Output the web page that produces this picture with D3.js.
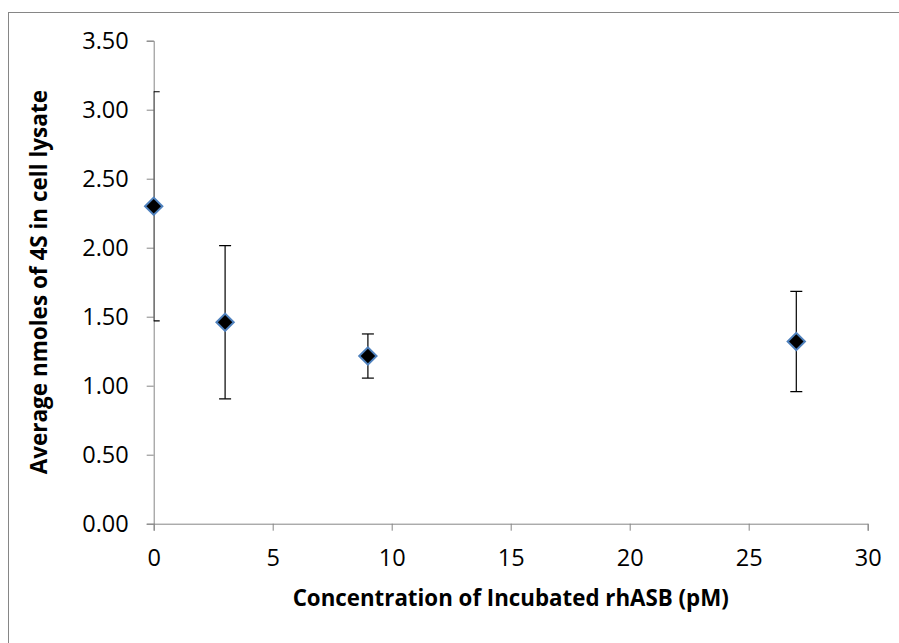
<!DOCTYPE html>
<html>
<head>
<meta charset="utf-8">
<script src="https://cdn.jsdelivr.net/npm/d3@7"></script>
<style>
  body { margin: 0; background: #fff; }
  svg { display: block; }
  .tick text { font-family: "Open Sans", sans-serif; fill: #000; }
</style>
</head>
<body>
<div id="chart"></div>
<script>
// concentration (pM), mean nmoles, error (+/-)
const concentrations = [0, 3, 9, 27];
const means = [2.30, 1.46, 1.215, 1.32];
const errors = [0.83, 0.555, 0.16, 0.363];

const yTicks = [0, 0.5, 1, 1.5, 2, 2.5, 3, 3.5];
const xTicks = [0, 5, 10, 15, 20, 25, 30];

const W = 899, H = 643;
const pLeft = 153.7, pTop = 40.7, pRight = 867.7, pBottom = 523.7;

const svg = d3.select("#chart").append("svg")
    .attr("width", W)
    .attr("height", H);

// chart border
svg.append("rect")
    .attr("x", 8.5).attr("y", 12.5)
    .attr("width", W).attr("height", H)
    .attr("fill", "none")
    .attr("stroke", "#868686");

const x = d3.scaleLinear().domain([0, 30]).range([pLeft, pRight]);
const y = d3.scaleLinear().domain([0, 3.5]).range([pBottom, pTop]);

svg.append("clipPath").attr("id", "plot")
    .append("rect")
    .attr("x", pLeft).attr("y", pTop)
    .attr("width", pRight - pLeft).attr("height", pBottom - pTop);

// Y axis
const yAxis = svg.append("g")
    .attr("transform", `translate(${pLeft},0)`)
    .call(d3.axisLeft(y).tickValues(yTicks).tickFormat(d3.format(".2f")).tickSizeOuter(0).tickSize(7).tickPadding(18));
yAxis.selectAll("text").attr("font-size", 23.5);

// X axis
const xAxis = svg.append("g")
    .attr("transform", `translate(0,${pBottom})`)
    .call(d3.axisBottom(x).tickValues(xTicks).tickSizeOuter(0).tickSize(7).tickPadding(19));
xAxis.selectAll("text").attr("font-size", 23.5);

svg.selectAll(".domain, .tick line").attr("stroke", "#868686");

// error bars
const bars = svg.append("g").attr("clip-path", "url(#plot)");
concentrations.forEach((c, i) => {
    const cx = x(c);
    const y1 = y(means[i] + errors[i]);
    const y0 = y(means[i] - errors[i]);
    bars.append("line").attr("x1", cx).attr("x2", cx).attr("y1", y1).attr("y2", y0)
        .attr("stroke", "#000").attr("stroke-width", 1.2);
    [y1, y0].forEach(yy => {
        bars.append("line").attr("x1", cx - 6).attr("x2", cx + 6).attr("y1", yy).attr("y2", yy)
            .attr("stroke", "#000").attr("stroke-width", 1.2);
    });
});

// markers
svg.append("g").selectAll("path")
    .data(concentrations)
    .join("path")
    .attr("d", d3.symbol().type(d3.symbolSquare).size(150))
    .attr("transform", (d, i) => `translate(${x(d)},${y(means[i])}) rotate(45)`)
    .attr("fill", "#000")
    .attr("stroke", "#4F81BD")
    .attr("stroke-width", 2);

// axis titles
svg.append("text")
    .attr("x", (pLeft + pRight) / 2)
    .attr("y", 598)
    .attr("dy", "0.35em")
    .attr("text-anchor", "middle")
    .attr("font-family", "Open Sans, sans-serif")
    .attr("font-weight", "bold")
    .attr("font-size", 22.3)
    .text("Concentration of Incubated rhASB (pM)");

svg.append("text")
    .attr("transform", `translate(39,${(pTop + pBottom) / 2}) rotate(-90)`)
    .attr("dy", "0.35em")
    .attr("text-anchor", "middle")
    .attr("font-family", "Open Sans, sans-serif")
    .attr("font-weight", "bold")
    .attr("font-size", 22.5)
    .text("Average nmoles of 4S in cell lysate");
</script>
</body>
</html>
